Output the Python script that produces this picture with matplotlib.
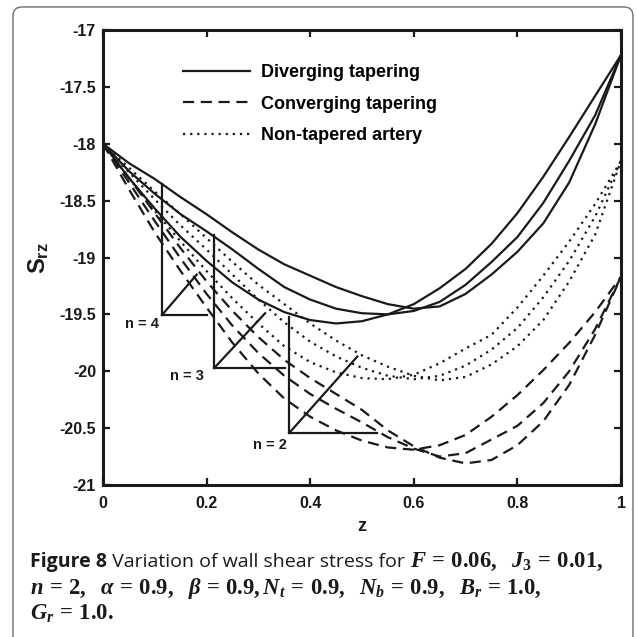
import matplotlib.pyplot as plt
from matplotlib.patches import FancyBboxPatch

plt.rcParams["font.family"] = ["Liberation Sans", "DejaVu Sans"]
plt.rcParams["font.weight"] = "bold"
plt.rcParams["axes.unicode_minus"] = False
plt.rcParams["mathtext.fontset"] = "custom"
plt.rcParams["mathtext.rm"] = "Liberation Serif:bold"
plt.rcParams["mathtext.it"] = "Liberation Serif:italic:bold"
plt.rcParams["mathtext.bf"] = "Open Sans:bold"
plt.rcParams["mathtext.sf"] = "Liberation Sans:bold"

# axial coordinate
z = [0.0, 0.05, 0.1, 0.15, 0.2, 0.25, 0.3, 0.35, 0.4, 0.45, 0.5,
     0.55, 0.6, 0.65, 0.7, 0.75, 0.8, 0.85, 0.9, 0.95, 1.0]

# wall shear stress, diverging tapering
div_n4 = [-18.0, -18.17, -18.31, -18.47, -18.62, -18.78, -18.93, -19.06, -19.16, -19.26, -19.34,
          -19.41, -19.45, -19.43, -19.32, -19.15, -18.95, -18.70, -18.34, -17.83, -17.22]
div_n3 = [-18.0, -18.24, -18.44, -18.62, -18.77, -18.93, -19.10, -19.26, -19.37, -19.45, -19.49,
          -19.50, -19.47, -19.39, -19.24, -19.04, -18.82, -18.52, -18.15, -17.75, -17.22]
div_n2 = [-18.0, -18.30, -18.57, -18.82, -19.03, -19.22, -19.37, -19.48, -19.55, -19.58, -19.56,
          -19.50, -19.41, -19.27, -19.10, -18.88, -18.61, -18.29, -17.94, -17.58, -17.22]

# converging tapering
conv_n4 = [-18.0, -18.30, -18.61, -18.92, -19.21, -19.47, -19.70, -19.90, -20.06, -20.20, -20.34,
           -20.52, -20.66, -20.76, -20.81, -20.78, -20.65, -20.44, -20.12, -19.68, -19.17]
conv_n3 = [-18.0, -18.34, -18.68, -19.01, -19.32, -19.60, -19.84, -20.04, -20.20, -20.33, -20.45,
           -20.58, -20.68, -20.75, -20.72, -20.60, -20.48, -20.28, -20.00, -19.63, -19.17]
conv_n2 = [-18.0, -18.40, -18.78, -19.12, -19.44, -19.75, -20.02, -20.24, -20.40, -20.52, -20.61,
           -20.67, -20.69, -20.65, -20.56, -20.40, -20.21, -19.99, -19.75, -19.48, -19.17]

# non-tapered artery
flat_n4 = [-18.0, -18.21, -18.42, -18.62, -18.83, -19.04, -19.24, -19.41, -19.58, -19.73, -19.86,
           -19.96, -20.04, -20.08, -20.05, -19.94, -19.78, -19.55, -19.21, -18.80, -18.15]
flat_n3 = [-18.0, -18.25, -18.49, -18.72, -18.93, -19.15, -19.37, -19.57, -19.74, -19.87, -19.97,
           -20.04, -20.07, -20.04, -19.95, -19.81, -19.62, -19.35, -19.03, -18.64, -18.15]
flat_n2 = [-18.0, -18.30, -18.59, -18.86, -19.12, -19.36, -19.58, -19.78, -19.92, -20.01, -20.06,
           -20.07, -20.03, -19.93, -19.80, -19.68, -19.44, -19.16, -18.86, -18.53, -18.15]

legend_labels = ["Diverging tapering", "Converging tapering", "Non-tapered artery"]

# bracket markers for n: vertical at mark_z from mark_top to mark_bottom,
# horizontal to mark_right, diagonal up to (tip_z, tip_s)
n_labels = ["n = 4", "n = 3", "n = 2"]
mark_z = [0.114, 0.215, 0.360]
mark_top = [-18.35, -18.80, -19.52]
mark_bottom = [-19.505, -19.97, -20.54]
mark_right = [0.201, 0.352, 0.529]
tip_z = [0.181, 0.313, 0.491]
tip_s = [-19.15, -19.49, -19.87]
label_z = [0.075, 0.162, 0.323]
label_s = [-19.585, -20.04, -20.65]

caption_lines = [
    ("Figure 8", " Variation of wall shear stress for ",
     r"$F\,=\,0.06,\ \ J_3\,=\,0.01,$"),
    ("", "", r"$n\,=\,2,\ \ \alpha\,=\,0.9,\ \ \beta\,=\,0.9, N_t\,=\,0.9,\ \ "
             r"N_b\,=\,0.9,\ \ B_r\,=\,1.0,$"),
    ("", "", r"$G_r\,=\,1.0.$"),
]
caption_baselines = [567, 594, 620]

ink = "#1a1a1a"

fig = plt.figure(figsize=(6.37, 6.37), dpi=100)

frame = FancyBboxPatch((13 / 637, -0.05), 620 / 637, 1 - 7 / 637 + 0.05,
                       boxstyle="round,pad=0,rounding_size=0.014",
                       transform=fig.transFigure, facecolor="none",
                       edgecolor="#6f6f6f", linewidth=1.0)
fig.patches.append(frame)

ax = fig.add_axes([103 / 637, 152 / 637, 518 / 637, 455 / 637])

lw = 1.6
dash = (0, (5, 3))
dot = (0, (1, 2.2))
for i, ys in enumerate([div_n4, div_n3, div_n2]):
    ax.plot(z, ys, color=ink, lw=lw, ls="-",
            label=legend_labels[0] if i == 0 else None)
for i, ys in enumerate([conv_n4, conv_n3, conv_n2]):
    ax.plot(z, ys, color=ink, lw=lw, ls=dash,
            label=legend_labels[1] if i == 0 else None)
for i, ys in enumerate([flat_n4, flat_n3, flat_n2]):
    ax.plot(z, ys, color=ink, lw=lw, ls=dot,
            label=legend_labels[2] if i == 0 else None)

for k in range(3):
    ax.plot([mark_z[k], mark_z[k]], [mark_top[k], mark_bottom[k]], color=ink, lw=lw)
    ax.plot([mark_z[k], mark_right[k]], [mark_bottom[k], mark_bottom[k]], color=ink, lw=lw)
    ax.plot([mark_z[k], tip_z[k]], [mark_bottom[k], tip_s[k]], color=ink, lw=lw)
    ax.text(label_z[k], label_s[k], n_labels[k], fontsize=10.5, fontweight="bold",
            ha="center", va="center", color=ink)

ax.set_xlim(0, 1)
ax.set_ylim(-21, -17)
ax.set_xticks([0, 0.2, 0.4, 0.6, 0.8, 1])
ax.set_xticklabels(["0", "0.2", "0.4", "0.6", "0.8", "1"])
ax.set_yticks([-21, -20.5, -20, -19.5, -19, -18.5, -18, -17.5, -17])
ax.set_yticklabels(["-21", "-20.5", "-20", "-19.5", "-19", "-18.5", "-18", "-17.5", "-17"])
ax.tick_params(direction="in", length=5, width=1.6, top=True, right=True,
               labelsize=11.5, colors=ink)
ax.tick_params(axis="x", pad=8)
ax.tick_params(axis="y", pad=5)
for sp in ax.spines.values():
    sp.set_linewidth(2.2)
    sp.set_color(ink)

ax.set_xlabel("z", fontsize=13, fontweight="bold", labelpad=5, color=ink)
ax.set_ylabel(r"$\mathsf{S_{rz}}$", fontsize=17, labelpad=6, color=ink)

ax.legend(loc="upper left", bbox_to_anchor=(0.154, 0.925), frameon=False,
          prop={"size": 13, "weight": "bold"}, handlelength=3.7,
          handletextpad=0.65, labelspacing=0.8, borderpad=0, borderaxespad=0)

# caption: bold label, plain sans text, then serif math, laid out left to right
renderer = fig.canvas.get_renderer()
for (head, body, math), base in zip(caption_lines, caption_baselines):
    x = 30
    y = 1 - base / 637
    for s, props in ((head, {"family": "Open Sans", "weight": "bold", "fontsize": 14}),
                     (body, {"family": "Open Sans", "weight": "normal", "fontsize": 14}),
                     (math, {"fontsize": 16.3})):
        if not s:
            continue
        t = fig.text(x / 637, y, s, va="baseline", ha="left", color=ink, **props)
        x += t.get_window_extent(renderer).width

fig.savefig("out.png", dpi=100)
